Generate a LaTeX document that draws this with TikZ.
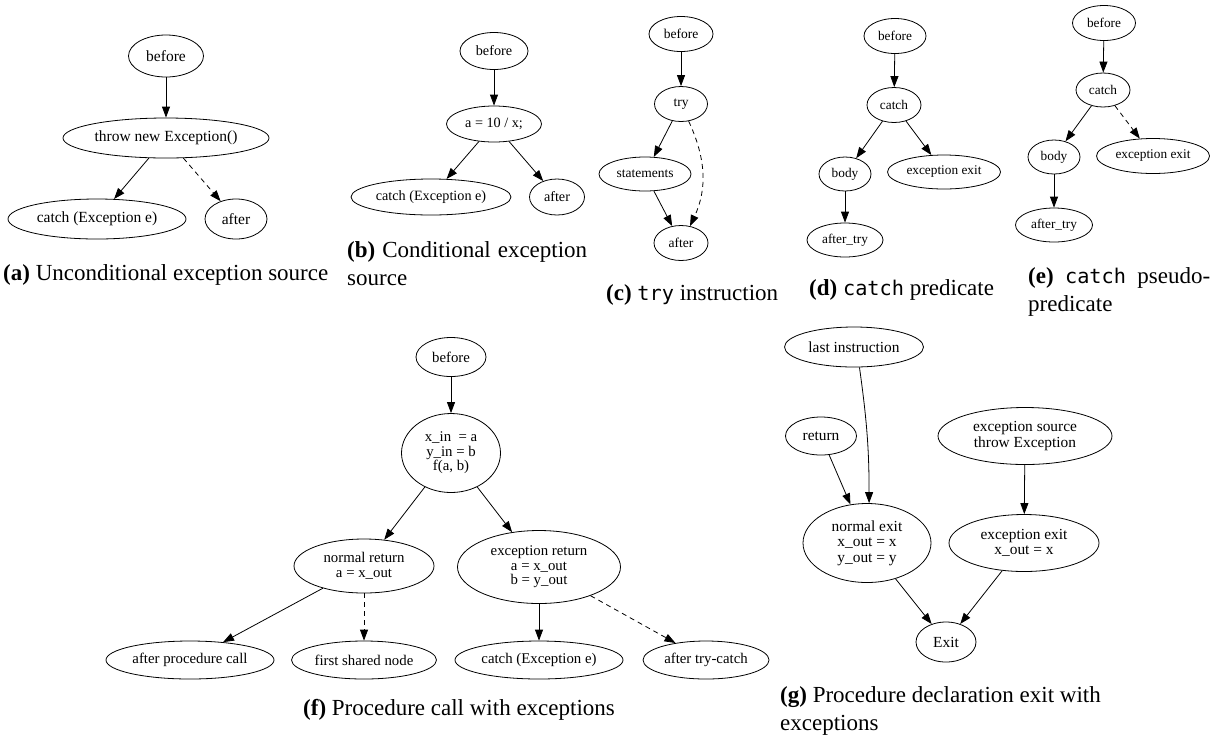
\documentclass[tikz,border=0pt]{standalone}
\usepackage{fontspec}
\setmainfont{Liberation Serif}
\setmonofont{DejaVu Sans Mono}[Scale=0.88]
\usepackage{tikz}
\usetikzlibrary{arrows.meta, positioning, shapes.geometric}

\tikzset{
  vertex/.style={ellipse, draw, line width=0.8pt, inner sep=0pt, align=center},
  dims/.style 2 args={minimum width=#1pt, minimum height=#2pt},
  flow/.style={-{Triangle[length=11pt, width=8pt]}, line width=0.8pt},
  alt/.style={flow, dash pattern=on 5pt off 4pt},
  caption/.style={anchor=base west, inner sep=0pt,
    font=\fontsize{23}{28}\selectfont}
}

\begin{document}
\begin{tikzpicture}[x=1pt, y=-1pt]

  % Two-line captions: first row sits on the given baseline
  \setlength{\tabcolsep}{0pt}
  \renewcommand{\arraystretch}{1}

  \useasboundingbox (0,0) rectangle (1225,740);

  % ==================== (a) ====================
  \begin{scope}[font=\fontsize{15.5}{15.5}\selectfont]
    \node (BeforeA) [vertex, dims={75}{42}] at (166,56) {before};
    \node (ThrowA) [vertex, dims={206}{40}] at (166,138) {throw new Exception()};
    \node (CatchA) [vertex, dims={178}{40}] at (97,219) {catch (Exception e)};
    \node (AfterA) [vertex, dims={62}{40}] at (236,219) {after};
    \draw[flow] (BeforeA) -- (ThrowA);
    \draw[flow] (ThrowA) -- (CatchA);
    \draw[alt] (ThrowA) -- (AfterA);
  \end{scope}
  \node (CapA) [caption] at (3,280) {\textbf{(a)} Unconditional exception source};

  % ==================== (b) ====================
  \begin{scope}[font=\fontsize{14.2}{14.2}\selectfont]
    \node (BeforeB) [vertex, dims={68}{37}] at (494,51) {before};
    \node (DivB) [vertex, dims={95}{36}] at (494,124) {a = 10 / x;};
    \node (CatchB) [vertex, dims={160}{36}] at (431,197) {catch (Exception e)};
    \node (AfterB) [vertex, dims={55}{36}] at (557,197) {after};
    \draw[flow] (BeforeB) -- (DivB);
    \draw[flow] (DivB) -- (CatchB);
    \draw[flow] (DivB) -- (AfterB);
  \end{scope}
  \node (CapB) [caption] at (347,257) {%
    \begin{tabular}[t]{l}
      \makebox[240pt][s]{\textbf{(b)} Conditional exception} \\
      source
    \end{tabular}};

  % ==================== (c) ====================
  \begin{scope}[font=\fontsize{13.5}{13.5}\selectfont]
    \node (BeforeC) [vertex, dims={64}{35}] at (681,34) {before};
    \node (TryC) [vertex, dims={53}{35}] at (681,104) {try};
    \node (StmtC) [vertex, dims={92}{34}] at (645,174) {statements};
    \node (AfterC) [vertex, dims={54}{35}] at (681,243) {after};
    \draw[flow] (BeforeC) -- (TryC);
    \draw[flow] (TryC) -- (StmtC);
    \draw[flow] (StmtC) -- (AfterC);
    \draw[alt] (TryC.-66) to[out=-65, in=65] (AfterC.62);
  \end{scope}
  \node (CapC) [caption] at (606,300) {\textbf{(c)} \texttt{try} instruction};

  % ==================== (d) ====================
  \begin{scope}[font=\fontsize{13.3}{13.3}\selectfont]
    \node (BeforeD) [vertex, dims={62}{35}] at (895,36) {before};
    \node (CatchD) [vertex, dims={54}{35}] at (894,105) {catch};
    \node (BodyD) [vertex, dims={52}{34}] at (845,174) {body};
    \node (ExitD) [vertex, dims={113}{34}] at (944,172) {exception exit};
    \node (AfterTryD) [vertex, dims={76}{34}] at (845,240) {after\_try};
    \draw[flow] (BeforeD) -- (CatchD);
    \draw[flow] (CatchD) -- (BodyD);
    \draw[flow] (CatchD) -- (ExitD);
    \draw[flow] (BodyD) -- (AfterTryD);
  \end{scope}
  \node (CapD) [caption] at (809,295) {\textbf{(d)} \texttt{catch} predicate};

  % ==================== (e) ====================
  \begin{scope}[font=\fontsize{13.3}{13.3}\selectfont]
    \node (BeforeE) [vertex, dims={63}{35}] at (1104,23) {before};
    \node (CatchE) [vertex, dims={54}{34}] at (1103,90) {catch};
    \node (BodyE) [vertex, dims={52}{34}] at (1054,157) {body};
    \node (ExitE) [vertex, dims={113}{35}] at (1153,156) {exception exit};
    \node (AfterTryE) [vertex, dims={77}{34}] at (1054,225) {after\_try};
    \draw[flow] (BeforeE) -- (CatchE);
    \draw[flow] (CatchE) -- (BodyE);
    \draw[alt] (CatchE) -- (ExitE);
    \draw[flow] (BodyE) -- (AfterTryE);
  \end{scope}
  \node (CapE) [caption] at (1028,283) {%
    \begin{tabular}[t]{l}
      \makebox[182pt][s]{\textbf{(e)} \texttt{catch} pseudo-} \\
      predicate
    \end{tabular}};

  % ==================== (f) ====================
  \begin{scope}[font=\fontsize{14.8}{14.6}\selectfont]
    \node (BeforeF) [vertex, dims={70}{39}] at (451,357) {before};
    \node (CallF) [vertex, dims={99}{79}] at (451,453) {x\_in\ \ = a\\y\_in = b\\f(a, b)};
    \node (NormalF) [vertex, dims={140}{54}] at (364,566) {normal return\\a = x\_out};
    \node (ExcF) [vertex, dims={163}{73}] at (539,567) {exception return\\a = x\_out\\b = y\_out};
    \node (AfterCallF) [vertex, dims={168}{38}] at (190,660) {after procedure call};
    \node (SharedF) [vertex, dims={145}{38}] at (364,660) {first shared node};
    \node (CatchF) [vertex, dims={168}{38}] at (539,660) {catch (Exception e)};
    \node (AfterTryCatchF) [vertex, dims={126}{38}] at (706,660) {after try-catch};
    \draw[flow] (BeforeF) -- (CallF);
    \draw[flow] (CallF) -- (NormalF);
    \draw[flow] (CallF) -- (ExcF);
    \draw[flow] (NormalF) -- (AfterCallF);
    \draw[alt] (NormalF) -- (SharedF);
    \draw[flow] (ExcF) -- (CatchF);
    \draw[alt] (ExcF) -- (AfterTryCatchF);
  \end{scope}
  \node (CapF) [caption] at (303,715) {\textbf{(f)} Procedure call with exceptions};

  % ==================== (g) ====================
  \begin{scope}[font=\fontsize{15.4}{15.5}\selectfont]
    \node (LastG) [vertex, dims={139}{40}] at (854,347) {last instruction};
    \node (ReturnG) [vertex, dims={71}{38}] at (821,436) {return};
    \node (SourceG) [vertex, dims={174}{57}] at (1025,436) {exception source\\throw Exception};
    \node (NormalG) [vertex, dims={128}{79}] at (867,543) {normal exit\\x\_out = x\\y\_out = y};
    \node (ExcExitG) [vertex, dims={150}{57}] at (1024,543) {exception exit\\x\_out = x};
    \node (ExitG) [vertex, dims={60}{40}] at (946,642) {Exit};
    \draw[flow] (LastG.-75) to[out=-82, in=90] (NormalG.87);
    \draw[flow] (ReturnG) -- (NormalG);
    \draw[flow] (SourceG) -- (ExcExitG);
    \draw[flow] (NormalG) -- (ExitG);
    \draw[flow] (ExcExitG) -- (ExitG);
  \end{scope}
  \node (CapG) [caption] at (780,702) {%
    \begin{tabular}[t]{l}
      \textbf{(g)} Procedure declaration exit with \\
      exceptions
    \end{tabular}};

\end{tikzpicture}
\end{document}
